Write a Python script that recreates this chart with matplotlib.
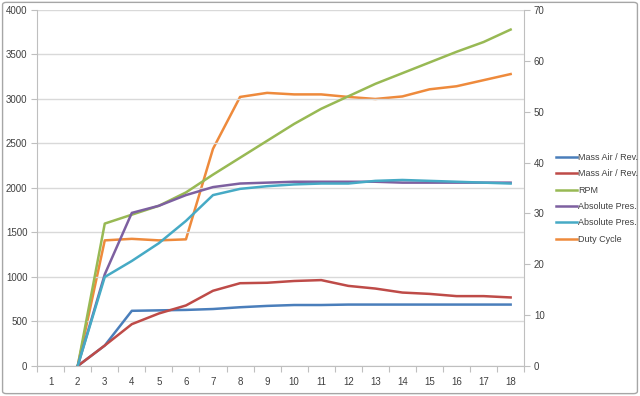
import numpy as np
import matplotlib.pyplot as plt
from matplotlib.patches import FancyBboxPatch

# === data ===
cats = list(range(1, 19))
x = cats[1:]  # series start at 2

mass_air_1 = [0, 230, 620, 625, 630, 640, 660, 675, 685, 685, 690, 690, 690, 690, 690, 690, 690]
mass_air_2 = [0, 230, 470, 590, 680, 845, 930, 935, 955, 965, 900, 870, 825, 810, 785, 785, 770]
rpm = [0, 1600, 1700, 1800, 1950, 2150, 2340, 2530, 2720, 2890, 3030, 3170, 3290, 3410, 3530, 3640, 3780]
abs_pres_1 = [0, 1030, 1720, 1800, 1920, 2010, 2050, 2060, 2070, 2070, 2070, 2070, 2060, 2060, 2060, 2060, 2060]
abs_pres_2 = [0, 1000, 1180, 1380, 1630, 1920, 1990, 2020, 2040, 2050, 2050, 2080, 2090, 2080, 2070, 2060, 2050]
duty_cycle = [0, 24.7, 25.0, 24.7, 24.9, 42.7, 52.9, 53.7, 53.4, 53.4, 52.9, 52.5, 53.0, 54.4, 55.0, 56.2, 57.4]

labels = ["Mass Air / Rev.", "Mass Air / Rev.", "RPM", "Absolute Pres.", "Absolute Pres.", "Duty Cycle"]
colors = ["#4A7EBB", "#BE4B48", "#98B954", "#7D60A0", "#46AAC5", "#EE8A3C"]

plt.rcParams['font.family'] = ['Liberation Sans Narrow', 'Liberation Sans', 'DejaVu Sans']
fig = plt.figure(figsize=(6.4, 3.96), dpi=100)
fig.patch.set_facecolor('white')
fig.patches.append(FancyBboxPatch((0.004, 0.006), 0.992, 0.988, boxstyle="round,pad=0,rounding_size=0.006",
                                  transform=fig.transFigure, facecolor='none', edgecolor='#a6a6a6', linewidth=1.0))

ax = fig.add_axes([0.058, 0.0758, 0.761, 0.899])
ax2 = ax.twinx()

lw = 1.8
handles = []
for ys, c, lab in zip([mass_air_1, mass_air_2, rpm, abs_pres_1, abs_pres_2], colors[:5], labels[:5]):
    h, = ax.plot(x, ys, color=c, lw=lw, label=lab, solid_joinstyle='round')
    handles.append(h)
h, = ax2.plot(x, duty_cycle, color=colors[5], lw=lw, label=labels[5], solid_joinstyle='round')
handles.append(h)

# left-axis lines drawn above the duty cycle line
ax.set_zorder(ax2.get_zorder() + 1)
ax.patch.set_visible(False)

ax.set_xlim(0.5, 18.5)
ax.set_ylim(0, 4000)
ax2.set_ylim(0, 70)
ax.set_yticks(np.arange(0, 4001, 500))
ax2.set_yticks(np.arange(0, 71, 10))

ax.set_xticks(np.arange(0.5, 19, 1))
ax.set_xticklabels([])
ax.set_xticks(cats, minor=True)
ax.set_xticklabels([str(c) for c in cats], minor=True)
ax.tick_params(axis='x', which='major', length=4, color='#bfbfbf', direction='out')
ax.tick_params(axis='x', which='minor', length=0, pad=8, labelsize=7, labelcolor='#404040')
ax.tick_params(axis='y', length=4, color='#bfbfbf', labelsize=7, labelcolor='#404040', pad=3)
ax2.tick_params(axis='y', length=4, color='#bfbfbf', labelsize=7, labelcolor='#404040', pad=3)

ax.grid(axis='y', color='#d9d9d9', lw=1.0)
ax.set_axisbelow(True)

for a in (ax, ax2):
    a.spines['top'].set_visible(False)
    for s in ('left', 'right', 'bottom'):
        a.spines[s].set_color('#bfbfbf')
ax.spines['right'].set_visible(False)
ax2.spines['left'].set_visible(False)
ax2.spines['bottom'].set_visible(False)

fig.legend(handles, labels, loc='upper left', bbox_to_anchor=(0.868, 0.614), frameon=False,
           fontsize=6.5, handlelength=2.4, handletextpad=0.1, labelspacing=0.82,
           borderpad=0, borderaxespad=0, labelcolor='#404040')

fig.savefig("out.png", dpi=100)
